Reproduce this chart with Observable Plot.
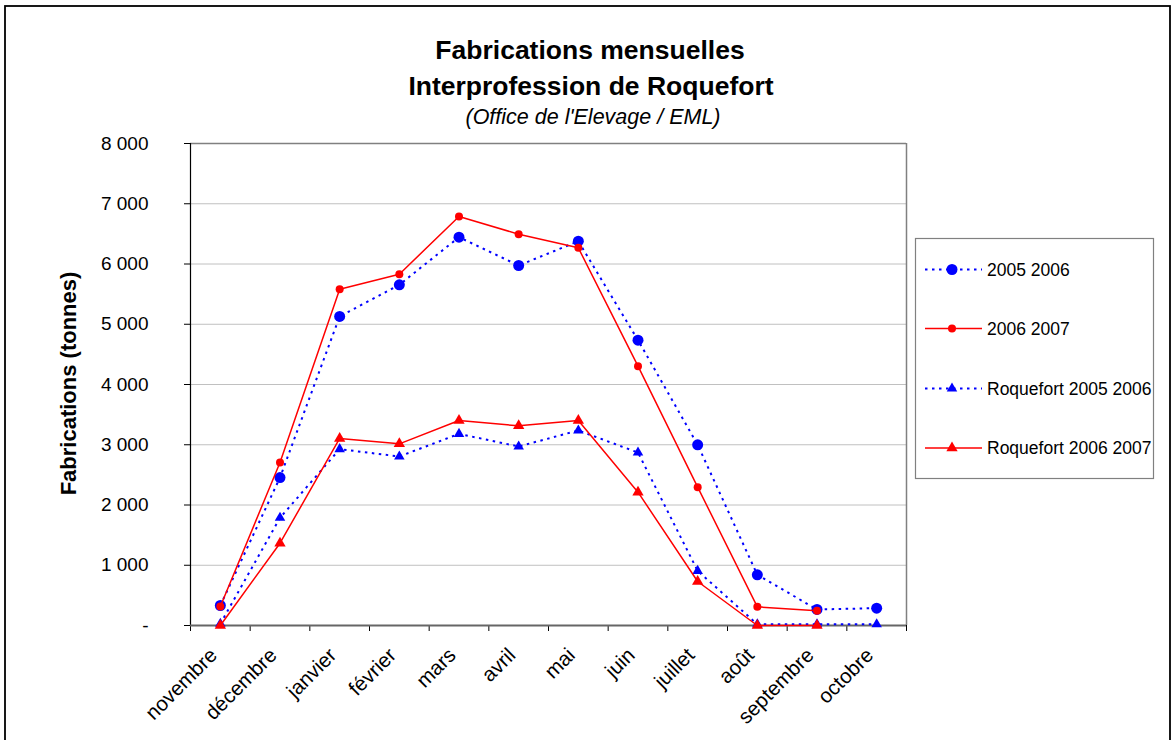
<!DOCTYPE html>
<html>
<head>
<meta charset="utf-8">
<script src="https://cdn.jsdelivr.net/npm/d3@7"></script>
<script src="https://cdn.jsdelivr.net/npm/@observablehq/plot@0.6"></script>
<style>
  html, body { margin: 0; padding: 0; background: #fff; }
  #chart { width: 1176px; height: 740px; overflow: hidden; }
</style>
</head>
<body>
<div id="chart"></div>
<script>
// ---- data ----
const months = ["novembre", "décembre", "janvier", "février", "mars", "avril", "mai", "juin", "juillet", "août", "septembre", "octobre"];
const s2005_2006 = [332, 2456, 5129, 5655, 6445, 5975, 6378, 4736, 2999, 841, 266, 288];
const s2006_2007 = [315, 2705, 5582, 5831, 6788, 6495, 6268, 4304, 2296, 310, 244, null];
const roq2005_2006 = [28, 1787, 2927, 2805, 3181, 2971, 3237, 2871, 907, 20, 20, 20];
const roq2006_2007 = [0, 1366, 3104, 3015, 3402, 3314, 3402, 2213, 730, 0, 0, null];
const yTicks = [0, 1000, 2000, 3000, 4000, 5000, 6000, 7000, 8000];
const seriesNames = ["2005 2006", "2006 2007", "Roquefort 2005 2006", "Roquefort 2006 2007"];
const titleLines = ["Fabrications mensuelles", "Interprofession de Roquefort"];
const subtitle = "(Office de l'Elevage / EML)";
const yLabel = "Fabrications (tonnes)";

const FONT = "'Liberation Sans', Arial, Helvetica, sans-serif";
const BLUE = "#0000ff", RED = "#ff0000";

const seriesStyles = [
  {values: s2005_2006, stroke: BLUE, width: 2, dash: "2.5,4.5", symbol: "circle", r: 5.5},
  {values: s2006_2007, stroke: RED, width: 1.5, dash: null, symbol: "circle", r: 4},
  {values: roq2005_2006, stroke: BLUE, width: 2, dash: "2.5,4.5", symbol: "triangle", r: 3.9},
  {values: roq2006_2007, stroke: RED, width: 1.5, dash: null, symbol: "triangle", r: 4.2}
];

const fmt = d => d === 0 ? "-" : d3.format(",")(d).replace(/,/g, " ");

const seriesMarks = [];
seriesStyles.forEach((s, k) => {
  const data = s.values.map((v, i) => ({i, v, name: seriesNames[k], month: months[i]})).filter(d => d.v != null);
  seriesMarks.push(Plot.line(data, {
    x: d => d.i + 0.5, y: "v", stroke: s.stroke, strokeWidth: s.width,
    strokeDasharray: s.dash || undefined, strokeLinecap: "butt", strokeLinejoin: "round"
  }));
  seriesMarks.push(Plot.dot(data, {
    x: d => d.i + 0.5, y: "v", r: s.r, fill: s.stroke, stroke: "none", symbol: s.symbol
  }));
});

const plot = Plot.plot({
  width: 1176,
  height: 740,
  marginLeft: 190,
  marginRight: 270,
  marginTop: 143,
  marginBottom: 115,
  style: {fontFamily: FONT, fontSize: "19px", color: "#000", background: "#fff"},
  x: {domain: [0, 12]},
  y: {domain: [0, 8000]},
  marks: [
    Plot.gridY({ticks: yTicks.filter(d => d > 0), stroke: "#c0c0c0", strokeOpacity: 1, strokeWidth: 1}),
    Plot.ruleY([8000], {stroke: "#808080", strokeWidth: 1.5}),
    Plot.ruleX([12], {stroke: "#808080", strokeWidth: 1.5}),
    Plot.axisY({ticks: yTicks, tickSize: 6, tickPadding: 36, tickFormat: fmt, label: null, stroke: "#000", fontSize: 19}),
    Plot.axisX({ticks: d3.range(0, 13), tickSize: 6, tickFormat: () => "", label: null, stroke: "#000"}),
    Plot.ruleX([0], {stroke: "#000", strokeWidth: 1.2}),
    Plot.ruleY([0], {stroke: "#666", strokeWidth: 2}),
    ...seriesMarks,
    Plot.text(months, {
      x: (d, i) => i + 0.5, text: d => d, frameAnchor: "bottom",
      rotate: -45, textAnchor: "end", dx: -2, dy: 31, fontSize: 20.5, fill: "#000"
    })
  ]
});

const svg = d3.select(plot);

// outer frame
svg.append("rect").attr("x", 5).attr("y", 6).attr("width", 1165).attr("height", 800)
  .attr("fill", "none").attr("stroke", "#000").attr("stroke-width", 1.8);

// titles
const tg = svg.append("g").attr("font-family", FONT).attr("text-anchor", "middle").attr("fill", "#000");
tg.append("text").attr("x", 590).attr("y", 59).attr("font-size", 26.5).attr("font-weight", "bold").text(titleLines[0]);
tg.append("text").attr("x", 591).attr("y", 95).attr("font-size", 26.5).attr("font-weight", "bold").text(titleLines[1]);
tg.append("text").attr("x", 593).attr("y", 124).attr("font-size", 21.5).attr("font-style", "italic").text(subtitle);

// y axis title
svg.append("text").attr("transform", "translate(76,383.5) rotate(-90)")
  .attr("font-family", FONT).attr("font-size", 22).attr("font-weight", "bold")
  .attr("text-anchor", "middle").attr("fill", "#000").text(yLabel);

// legend
const lg = svg.append("g").attr("font-family", FONT).attr("text-anchor", "start");
lg.append("rect").attr("x", 915.5).attr("y", 238.5).attr("width", 238).attr("height", 240)
  .attr("fill", "#fff").attr("stroke", "#808080").attr("stroke-width", 1.2);
const rowY = [269.5, 328.5, 388.5, 448];
seriesStyles.forEach((s, k) => {
  const y = rowY[k];
  lg.append("line").attr("x1", 925).attr("x2", 982).attr("y1", y).attr("y2", y)
    .attr("stroke", s.stroke).attr("stroke-width", s.width)
    .attr("stroke-dasharray", s.dash || null);
  const size = Math.PI * s.r * s.r;
  const sym = s.symbol === "circle" ? d3.symbolCircle : d3.symbolTriangle;
  lg.append("path").attr("d", d3.symbol(sym, size)()).attr("transform", `translate(952,${y})`).attr("fill", s.stroke);
  lg.append("text").attr("x", 987).attr("y", y).attr("dy", "0.35em").attr("font-size", 17.5)
    .attr("text-anchor", "start").attr("fill", "#000").text(seriesNames[k]);
});

document.getElementById("chart").appendChild(plot);
</script>
</body>
</html>
